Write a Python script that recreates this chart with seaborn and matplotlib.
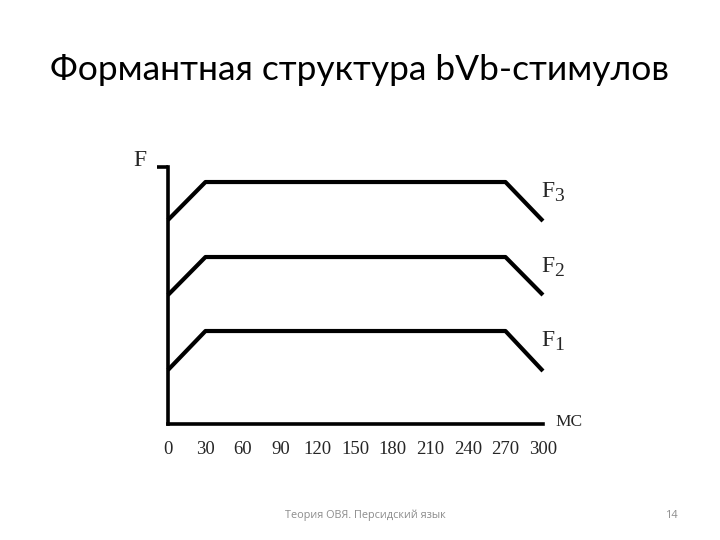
import pandas as pd
import seaborn as sns
import matplotlib.pyplot as plt

# Время (мс) и значения формант (условные единицы по оси F)
time_ms = [0, 30, 270, 300]
f1 = [54, 93, 93, 53]
f2 = [129, 167, 167, 129]
f3 = [204, 242, 242, 203]
formant_names = ["F1", "F2", "F3"]
tick_values = [0, 30, 60, 90, 120, 150, 180, 210, 240, 270, 300]

rows = []
for name, vals in zip(formant_names, [f1, f2, f3]):
    for t, v in zip(time_ms, vals):
        rows.append({"t": t, "F": v, "formant": name})
df = pd.DataFrame(rows)

sns.set_style("white")
plt.rcParams["font.family"] = ["Liberation Serif", "DejaVu Serif"]

fig = plt.figure(figsize=(7.2, 5.4), dpi=100)
ax = fig.add_axes([0.2333, 0.2148, 0.5208, 0.4759])

sns.lineplot(data=df, x="t", y="F", units="formant", estimator=None,
             color="black", linewidth=3, ax=ax, legend=False)
for line in ax.lines:
    line.set_clip_on(False)
    line.set_solid_capstyle("butt")

ax.set_xlim(0, 300)
ax.set_ylim(0, 257)
ax.set_xlabel("")
ax.set_ylabel("")

for side in ["top", "right"]:
    ax.spines[side].set_visible(False)
for side in ["left", "bottom"]:
    ax.spines[side].set_linewidth(2.6)
    ax.spines[side].set_color("black")

ax.set_xticks(tick_values)
ax.set_xticklabels([str(v) for v in tick_values], fontsize=13.5)
ax.tick_params(axis="x", length=7.5, width=2.6, color="black", pad=5, direction="out")
ax.xaxis.get_major_ticks()[0].tick1line.set_visible(False)

ax.set_yticks([257])
ax.set_yticklabels([""])
ax.tick_params(axis="y", length=8, width=2.6, color="black", direction="out", left=True)

# подписи осей и формант
ax.text(-0.075, 0.985, "F", transform=ax.transAxes, fontsize=17, ha="center", va="bottom")
ax.text(1.033, -0.022, "МС", transform=ax.transAxes, fontsize=12.5, ha="left", va="bottom")
label_y = [f1[1], f2[1], f3[1]]
for name, yv in zip(formant_names, label_y):
    ax.text(299, yv + 1, "F", fontsize=17, ha="left", va="top", clip_on=False)
    ax.text(308.8, yv - 6, name[1], fontsize=14, ha="left", va="top", clip_on=False)

fig.text(0.5, 0.87, "Формантная структура bVb-стимулов", fontsize=25.5,
         ha="center", va="center", color="black", family=["Lato", "DejaVu Sans"])
fig.text(0.396, 0.046, "Теория ОВЯ. Персидский язык", fontsize=7.8, color="#8c8c8c",
         ha="left", va="center", family=["Open Sans", "DejaVu Sans"])
fig.text(0.934, 0.046, "14", fontsize=7.8, color="#8c8c8c",
         ha="center", va="center", family=["Open Sans", "DejaVu Sans"])

fig.savefig("out.png", dpi=100)
